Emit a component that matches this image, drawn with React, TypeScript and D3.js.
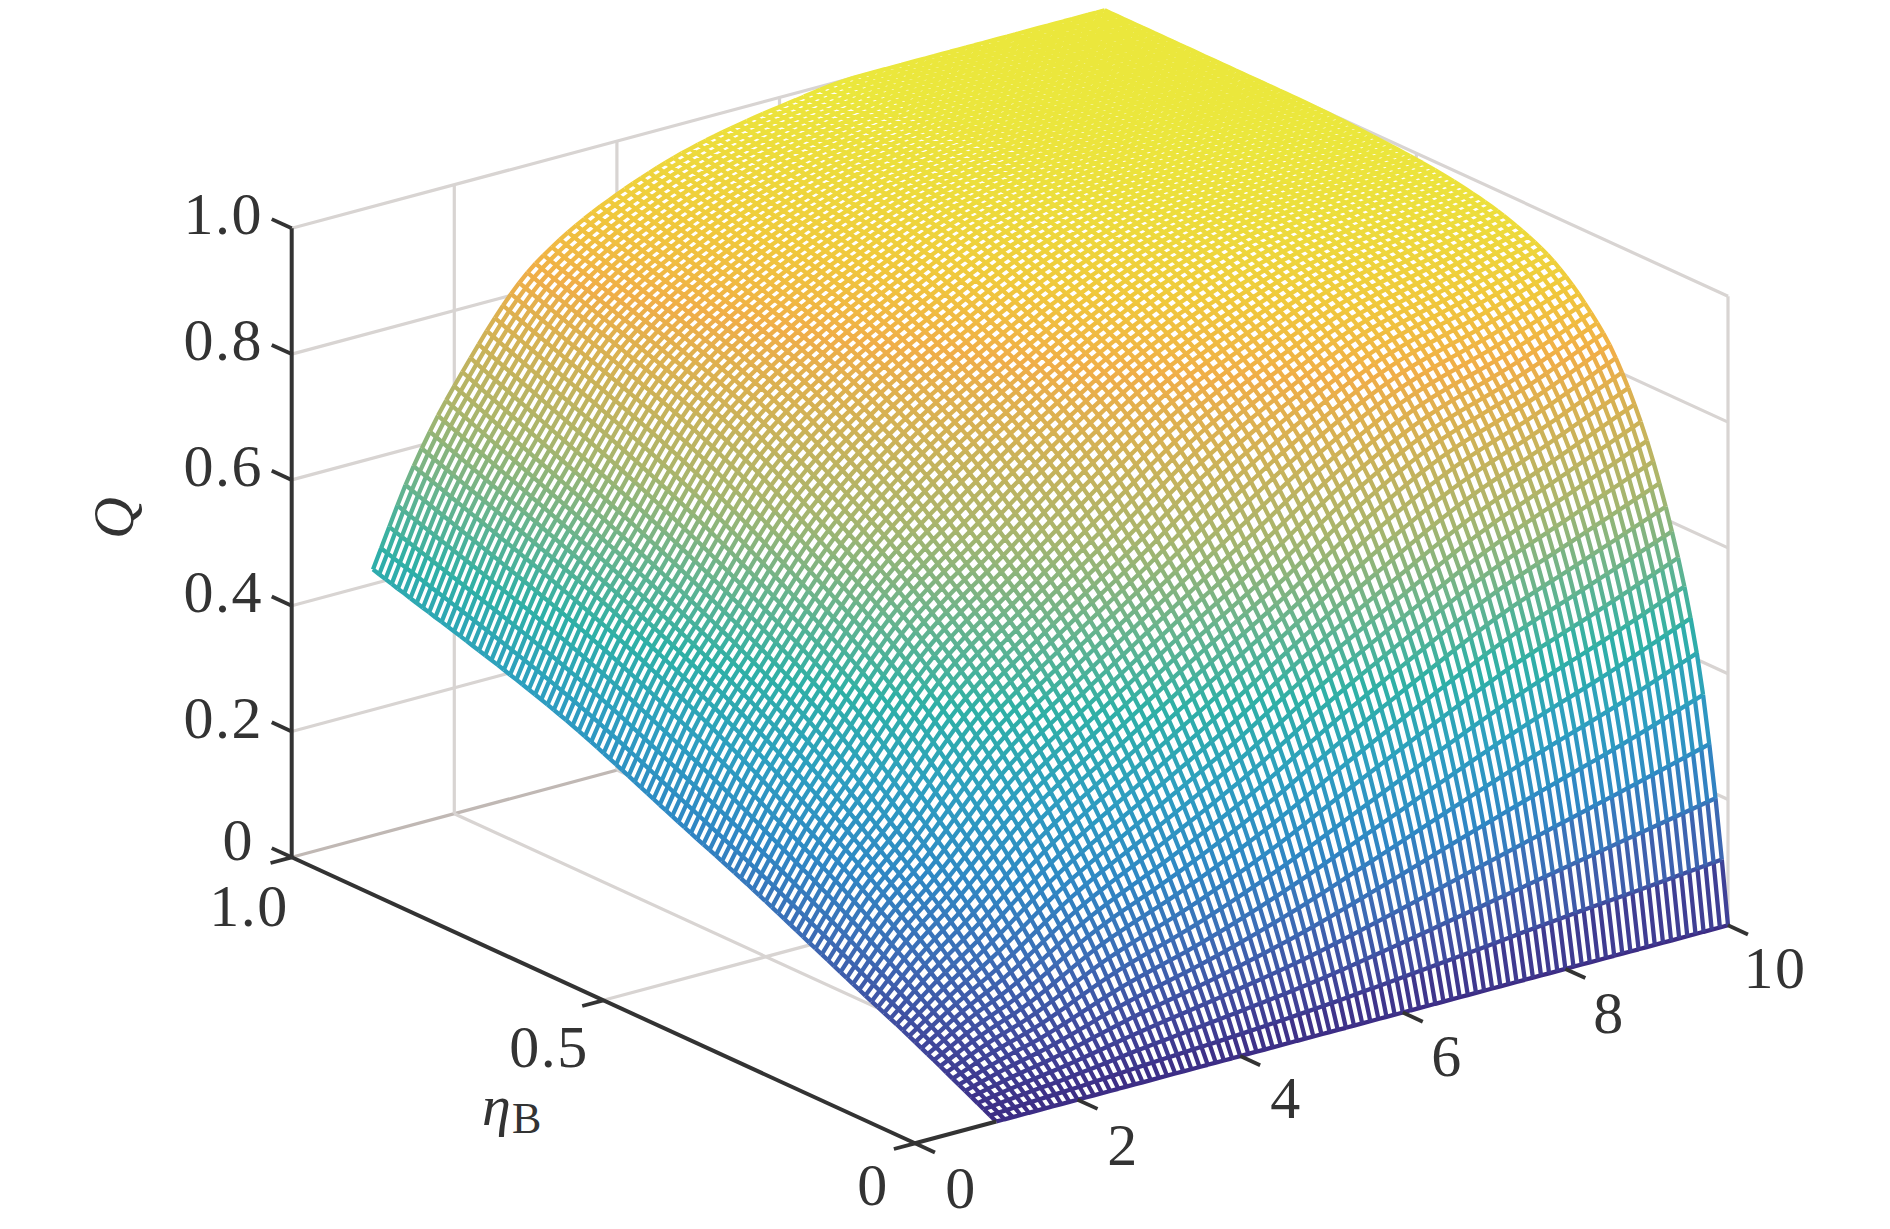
import React, { useMemo } from "react";
import * as d3 from "d3";

// Values (silhouette positions and colour bands).
// The drawn mesh is finer than this table: nodes between table entries are
// placed by monotone interpolation, so they are not individually read values.
const xSamples = [1, 1.5, 2, 3, 4, 5, 6, 7, 8, 9, 10];
const etaSamples = [0, 0.01, 0.025, 0.05, 0.1, 0.15, 0.2, 0.3, 0.4, 0.5, 0.7, 1];
const qAtX1 = [0, 0.005, 0.013, 0.026, 0.052, 0.077, 0.1, 0.148, 0.196, 0.24, 0.328, 0.423];
const qAtX1p5 = [0, 0.009, 0.022, 0.044, 0.087, 0.126, 0.166, 0.238, 0.3, 0.36, 0.458, 0.57];
const qAtX2 = [0, 0.012, 0.03, 0.059, 0.115, 0.17, 0.22, 0.305, 0.385, 0.448, 0.55, 0.68];
const qAtX3 = [0, 0.02, 0.05, 0.098, 0.19, 0.267, 0.338, 0.453, 0.54, 0.61, 0.73, 0.84];
const qAtX4 = [0, 0.027, 0.068, 0.13, 0.246, 0.344, 0.425, 0.55, 0.64, 0.72, 0.825, 0.915];
const qAtX5 = [0, 0.036, 0.088, 0.17, 0.31, 0.42, 0.51, 0.64, 0.74, 0.805, 0.895, 0.96];
const qAtX6 = [0, 0.048, 0.115, 0.218, 0.385, 0.505, 0.59, 0.735, 0.825, 0.88, 0.95, 0.985];
const qAtX7 = [0, 0.061, 0.145, 0.268, 0.455, 0.58, 0.68, 0.81, 0.885, 0.935, 0.978, 1];
const qAtX8 = [0, 0.075, 0.175, 0.316, 0.52, 0.65, 0.75, 0.87, 0.93, 0.965, 0.99, 1];
const qAtX9 = [0, 0.087, 0.205, 0.36, 0.57, 0.705, 0.795, 0.905, 0.955, 0.98, 0.998, 1];
const qAtX10 = [0, 0.1, 0.235, 0.41, 0.62, 0.76, 0.85, 0.94, 0.975, 0.99, 1, 1];
const qTable = [qAtX1, qAtX1p5, qAtX2, qAtX3, qAtX4, qAtX5, qAtX6, qAtX7, qAtX8, qAtX9, qAtX10];

const xTicks = [0, 2, 4, 6, 8, 10];
const etaTicks = [0, 0.5, 1];
const qTicks = [0, 0.2, 0.4, 0.6, 0.8, 1];
const qTickLabels = ["0", "0.2", "0.4", "0.6", "0.8", "1.0"];
const etaTickLabels = ["0", "0.5", "1.0"];
const xTickLabels = ["0", "2", "4", "6", "8", "10"];

const colorStops = [0, 0.08, 0.16, 0.25, 0.35, 0.45, 0.55, 0.65, 0.75, 0.83, 0.9, 1];
const colorValues = ["#3d2c84", "#404c9f", "#3c6db6", "#2f88c4", "#2e9fc0", "#2fb0a6", "#6bb48c", "#a8b56d", "#d2b255", "#f0ae48", "#f0c83c", "#ebe83c"];

const xStepCount = 90;
const etaStepCount = 100;

const originX = 915;
const originY = 1143.3;
const sxX = d3.scaleLinear().domain([0, 10]).range([0, 813]);
const sxY = d3.scaleLinear().domain([0, 10]).range([0, -218]);
const seX = d3.scaleLinear().domain([0, 1]).range([0, -623.3]);
const seY = d3.scaleLinear().domain([0, 1]).range([0, -286]);
const sqY = d3.scaleLinear().domain([0, 1]).range([0, -629]);
const color = d3.scaleLinear<string>().domain(colorStops).range(colorValues).clamp(true);

function project(x: number, e: number, q: number): [number, number] {
  return [originX + sxX(x) + seX(e), originY + sxY(x) + seY(e) + sqY(q)];
}

function pchip(xs: number[], ys: number[], t: number) {
  const n = xs.length;
  if (t <= xs[0]) return ys[0];
  if (t >= xs[n - 1]) return ys[n - 1];
  const h = xs.slice(1).map((v, i) => v - xs[i]);
  const s = h.map((hi, i) => (ys[i + 1] - ys[i]) / hi);
  const m = ys.map((_, i) => {
    if (i === 0) return s[0];
    if (i === n - 1) return s[n - 2];
    if (s[i - 1] * s[i] <= 0) return 0;
    const w1 = 2 * h[i] + h[i - 1];
    const w2 = h[i] + 2 * h[i - 1];
    return (w1 + w2) / (w1 / s[i - 1] + w2 / s[i]);
  });
  const k = Math.min(d3.bisectRight(xs, t) - 1, n - 2);
  const u = (t - xs[k]) / h[k];
  const u2 = u * u;
  const u3 = u2 * u;
  return (2 * u3 - 3 * u2 + 1) * ys[k] + (u3 - 2 * u2 + u) * h[k] * m[k] + (-2 * u3 + 3 * u2) * ys[k + 1] + (u3 - u2) * h[k] * m[k + 1];
}

const AXIS = "#333333";
const GRID = "#d8d4d2";
const FLOOR = "#c0b8b4";
const FONT = "'Liberation Serif', serif";
const LW = 4.3;

export default function App() {
  const { paths, outline } = useMemo(() => {
    const xs = d3.range(xStepCount + 1).map((i) => 1 + (9 * i) / xStepCount);
    const es = d3.range(etaStepCount + 1).map((j) => j / etaStepCount);
    const byEta = qTable.map((row) => es.map((e) => pchip(etaSamples, row, e)));
    const grid = xs.map((x) => es.map((_, j) => pchip(xSamples, byEta.map((r) => r[j]), x)));
    const bins = 220;
    const ds: string[] = new Array(bins).fill("");
    const seg = (a: [number, number, number], b: [number, number, number]) => {
      const q = (a[2] + b[2]) / 2;
      const k = Math.min(bins - 1, Math.floor(q * bins));
      const p = project(a[0], a[1], a[2]);
      const r = project(b[0], b[1], b[2]);
      ds[k] += `M${p[0].toFixed(1)} ${p[1].toFixed(1)}L${r[0].toFixed(1)} ${r[1].toFixed(1)}`;
    };
    xs.forEach((x, i) =>
      es.forEach((e, j) => {
        if (i < xStepCount) seg([x, e, grid[i][j]], [xs[i + 1], e, grid[i + 1][j]]);
        if (j < etaStepCount) seg([x, e, grid[i][j]], [x, es[j + 1], grid[i][j + 1]]);
      })
    );
    const edge: [number, number][] = [];
    es.forEach((e, j) => edge.push(project(1, e, grid[0][j])));
    xs.forEach((x, i) => edge.push(project(x, 1, grid[i][etaStepCount])));
    es.slice().reverse().forEach((e, j) => edge.push(project(10, e, grid[xStepCount][etaStepCount - j])));
    xs.slice().reverse().forEach((x) => edge.push(project(x, 0, 0)));
    const outlineD = d3.line()(edge) + "Z";
    return {
      outline: outlineD,
      paths: ds.map((d, k) => ({ d, stroke: color((k + 0.5) / bins) })).filter((p) => p.d),
    };
  }, []);

  const L = (a: [number, number], b: [number, number], stroke: string, w: number, key: string) => (
    <line key={key} x1={a[0]} y1={a[1]} x2={b[0]} y2={b[1]} stroke={stroke} strokeWidth={w} />
  );

  const wallLines: React.ReactNode[] = [];
  qTicks.forEach((q) => {
    wallLines.push(L(project(0, 1, q), project(10, 1, q), q === 0 ? FLOOR : GRID, 3.2, `wa${q}`));
    wallLines.push(L(project(10, 1, q), project(10, 0, q), q === 0 ? FLOOR : GRID, 3.2, `wb${q}`));
  });
  xTicks.slice(1).forEach((x) => {
    wallLines.push(L(project(x, 1, 0), project(x, 1, 1), GRID, 3.2, `va${x}`));
    wallLines.push(L(project(x, 1, 0), project(x, 0, 0), GRID, 3.2, `fa${x}`));
  });
  etaTicks.forEach((e) => {
    wallLines.push(L(project(10, e, 0), project(10, e, 1), GRID, 3.2, `vb${e}`));
    if (e > 0 && e < 1) wallLines.push(L(project(0, e, 0), project(10, e, 0), GRID, 3.2, `fb${e}`));
  });

  const txt = (s: string, x: number, y: number, anchor: string, key: string) => (
    <text key={key} x={x} y={y} textAnchor={anchor} fontFamily={FONT} fontSize={60} letterSpacing={1.5} fill={AXIS}>{s}</text>
  );

  const xLabelPos: [number, number][] = [[961, 1208], [1123, 1165], [1286, 1118], [1447, 1076], [1609, 1033], [1775, 988]];
  const etaLabelPos: [number, number, string][] = [[873, 1205, "middle"], [549, 1067, "middle"], [249, 926, "middle"]];

  return (
    <svg width={1890} height={1229} style={{ position: "absolute", left: 0, top: 0, display: "block", background: "#fff" }}>
      <g>{wallLines}</g>

      <path d={outline} fill="#fff" stroke="none" />
      <g fill="none" strokeWidth={LW} strokeLinecap="butt">
        {paths.map((p, i) => <path key={i} d={p.d} stroke={p.stroke} />)}
      </g>

      {L(project(0, 1, 0), project(0, 1, 1), AXIS, 4, "az")}
      {L(project(0, 1, 0), project(0, 0, 0), AXIS, 4, "ae")}
      {L(project(0, 0, 0), project(1, 0, 0), AXIS, 4, "ax")}
      {qTicks.map((q) => L(project(0, 1, q), project(0, 1.032, q), AXIS, 3.8, `tq${q}`))}
      {xTicks.map((x) => L(project(x, 0, 0), project(x, -0.032, 0), AXIS, 3.8, `tx${x}`))}
      {etaTicks.map((e) => L(project(0, e, 0), project(-0.26, e, 0), AXIS, 3.8, `te${e}`))}

      {qTicks.map((q, i) => txt(qTickLabels[i], q === 0 ? 254 : 263, project(0, 1, q)[1] + (q === 0 ? 3 : 6), "end", `lq${q}`))}
      {xTickLabels.map((s, i) => txt(s, xLabelPos[i][0], xLabelPos[i][1], "middle", `lx${i}`))}
      {etaTickLabels.map((s, i) => txt(s, etaLabelPos[i][0], etaLabelPos[i][1], etaLabelPos[i][2], `le${i}`))}

      <text transform="translate(133,518) rotate(-90)" textAnchor="middle" fontFamily={FONT} fontStyle="italic" fontSize={58} fill={AXIS}>Q</text>
      <text x={482} y={1125} fontFamily={FONT} fontStyle="italic" fontSize={58} fill={AXIS}>η</text>
      <text x={512} y={1133} fontFamily={FONT} fontSize={44} fill={AXIS}>B</text>
    </svg>
  );
}
